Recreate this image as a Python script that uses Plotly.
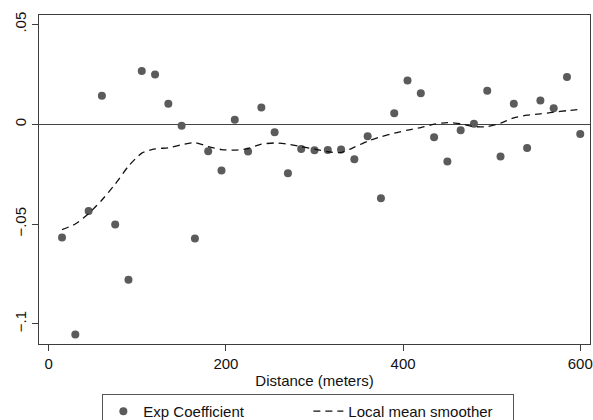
import plotly.graph_objects as go

# distance bins (meters)
distance = [15, 30, 45, 60, 75, 90, 105, 120, 135, 150,
            165, 180, 195, 210, 225, 240, 255, 270, 285, 300,
            315, 330, 345, 360, 375, 390, 405, 420, 435, 450,
            465, 480, 495, 510, 525, 540, 555, 570, 585, 600]

exp_coef = [-0.0567, -0.1053, -0.0435, 0.0142, -0.0502, -0.0779, 0.0267, 0.0249, 0.0102, -0.0008,
            -0.0572, -0.0135, -0.0232, 0.0022, -0.0137, 0.0084, -0.0040, -0.0246, -0.0124, -0.0130,
            -0.0129, -0.0127, -0.0176, -0.0060, -0.0371, 0.0055, 0.0219, 0.0155, -0.0065, -0.0187,
            -0.0030, 0.0002, 0.0167, -0.0162, 0.0102, -0.0119, 0.0119, 0.0080, 0.0236, -0.0049]

smoother = [-0.0528, -0.0500, -0.0448, -0.0380, -0.0300, -0.0210, -0.0145, -0.0124, -0.0118, -0.0103,
            -0.0092, -0.0112, -0.0127, -0.0130, -0.0122, -0.0100, -0.0094, -0.0100, -0.0112, -0.0125,
            -0.0138, -0.0142, -0.0115, -0.0085, -0.0063, -0.0045, -0.0030, -0.0017, 0.0000, 0.0008,
            0.0002, -0.0012, -0.0012, 0.0005, 0.0032, 0.0045, 0.0052, 0.0060, 0.0068, 0.0074]

x_ticks = [0, 200, 400, 600]
y_ticks = [-0.1, -0.05, 0, 0.05]
y_ticktext = ["\u2212.1", "\u2212.05", "0", ".05"]

font = dict(family="Liberation Sans, Arial, sans-serif", size=15, color="#111111")
axis_col = "#3c3c3c"

fig = go.Figure()

fig.add_trace(go.Scatter(
  x=distance, y=exp_coef,
  mode="markers",
  name="Exp Coefficient",
  marker=dict(color="#5b5b5b", size=8, line=dict(width=0)),
))

fig.add_trace(go.Scatter(
  x=distance, y=smoother,
  mode="lines",
  name="Local mean smoother",
  line=dict(color="#111111", width=1.3, dash="7px,5px", shape="spline", smoothing=0.6),
))

fig.update_layout(
  width=593, height=420,
  margin=dict(l=39, r=3, t=15, b=76, autoexpand=False),
  paper_bgcolor="white",
  plot_bgcolor="white",
  font=font,
  showlegend=True,
  legend=dict(
    orientation="h",
    xref="container", yref="container",
    x=0.52, xanchor="center",
    y=0.062, yanchor="top",
    bordercolor="#555555", borderwidth=1,
    font=font,
    entrywidth=160, entrywidthmode="pixels",
    traceorder="normal",
  ),
)

fig.update_xaxes(
  range=[-11, 611],
  tickvals=x_ticks,
  ticks="outside", ticklen=6, tickwidth=1.2, tickcolor=axis_col,
  showline=True, linecolor=axis_col, linewidth=1.3, mirror=True,
  showgrid=False, zeroline=False, automargin=False,
  title=dict(text="Distance (meters)", standoff=4, font=font),
  tickfont=font,
)

fig.update_yaxes(
  range=[-0.1101, 0.0547],
  tickvals=y_ticks, ticktext=y_ticktext,
  tickangle=-90,
  ticks="outside", ticklen=6, tickwidth=1.2, tickcolor=axis_col,
  showline=True, linecolor=axis_col, linewidth=1.3, mirror=True,
  showgrid=False, automargin=False,
  zeroline=True, zerolinecolor="#444444", zerolinewidth=1.3,
  tickfont=font,
)

# page body has an 8px default margin; drop it so the figure sits at the origin
fig.write_html(
  "out.html",
  config={"displayModeBar": False},
  post_script="document.body.style.margin='0';document.body.style.overflow='hidden';",
)
